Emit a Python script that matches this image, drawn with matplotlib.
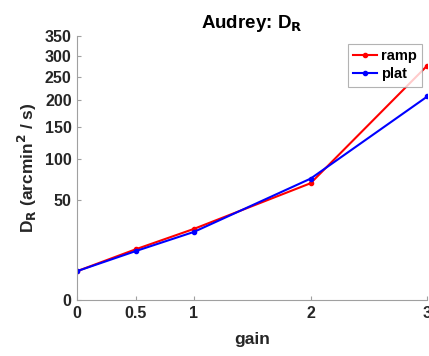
import numpy as np
import matplotlib
matplotlib.use("Agg")
import matplotlib.pyplot as plt

gain = [0, 0.5, 1, 2, 3]
ramp = [4.2, 12.9, 25.4, 68.5, 276]
plat = [4.2, 12.0, 23.3, 74.0, 208]
yticks = [0, 50, 100, 150, 200, 250, 300, 350]

plt.rcParams["font.family"] = ["Liberation Sans", "DejaVu Sans"]
plt.rcParams["font.weight"] = "bold"
txt = "#262626"
axc = "#a0a0a0"

fig = plt.figure(figsize=(4.29, 3.56), dpi=100)
ax = fig.add_axes([77.3 / 429, 56 / 356, 350 / 429, 264 / 356])

ax.plot(gain, ramp, color="red", marker=".", markersize=6, linewidth=1.5, label="ramp")
ax.plot(gain, plat, color="blue", marker=".", markersize=6, linewidth=1.5, label="plat")

ax.set_yscale("function", functions=(lambda v: np.sqrt(np.clip(v, 0, None)), lambda v: v ** 2))
ax.set_ylim(0, 350)
ax.set_xlim(0, 3)
ax.set_yticks(yticks)
ax.set_yticklabels([str(t) for t in yticks])
ax.set_xticks(gain)
ax.set_xticklabels(["0", "0.5", "1", "2", "3"])
ax.minorticks_off()

for s in ["top", "right"]:
    ax.spines[s].set_visible(False)
for s in ["left", "bottom"]:
    ax.spines[s].set_color(axc)
    ax.spines[s].set_linewidth(0.8)
ax.tick_params(direction="in", length=3, color=axc, labelsize=11.5, labelcolor=txt, pad=4)
for lab in ax.get_xticklabels() + ax.get_yticklabels():
    lab.set_fontweight("bold")

ax.set_title("Audrey: D$_\\mathbf{R}$", fontsize=13.5, fontweight="bold", color="black", pad=6)
ax.set_xlabel("gain", fontsize=12.5, fontweight="bold", color=txt, labelpad=8)
ax.set_ylabel("D$_\\mathbf{R}$ (arcmin$^\\mathbf{2}$ / s)", fontsize=12.5, fontweight="bold", color=txt, labelpad=4)

leg = ax.legend(loc="upper right", bbox_to_anchor=(0.985, 0.97), fontsize=10.5, frameon=True,
                fancybox=False, handlelength=1.7, handletextpad=0.25, borderpad=0.35,
                labelspacing=0.3, borderaxespad=0)
leg.get_frame().set_edgecolor(axc)
leg.get_frame().set_linewidth(0.8)
for t in leg.get_texts():
    t.set_color("black")

fig.savefig("out.png", dpi=100)
